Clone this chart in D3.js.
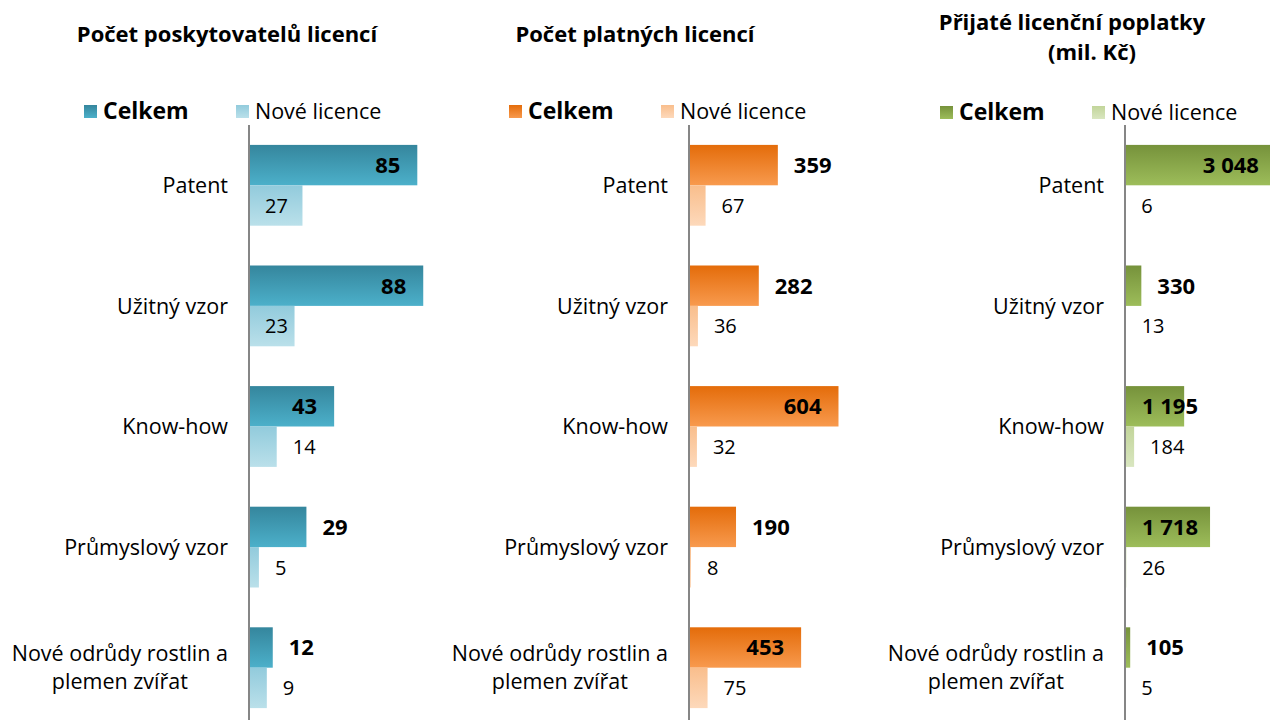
<!DOCTYPE html>
<html>
<head>
<meta charset="utf-8">
<script src="https://cdn.jsdelivr.net/npm/d3@7"></script>
<style>
  html, body { margin: 0; padding: 0; background: #fff; }
  svg { display: block; font-family: "Open Sans", Lato, sans-serif; }
</style>
</head>
<body>
<svg id="chart" width="1270" height="720"></svg>
<script>
// ---- data ----
const categories = ["Patent", "Užitný vzor", "Know-how", "Průmyslový vzor", "Nové odrůdy rostlin a\nplemen zvířat"];
const seriesNames = ["Celkem", "Nové licence"];
const panelTitles = [["Počet poskytovatelů licencí"], ["Počet platných licencí"], ["Přijaté licenční poplatky", "(mil. Kč)"]];
const providersTotal = [85, 88, 43, 29, 12];
const providersNew = [27, 23, 14, 5, 9];
const licencesTotal = [359, 282, 604, 190, 453];
const licencesNew = [67, 36, 32, 8, 75];
const feesTotal = [3048, 330, 1195, 1718, 105];
const feesNew = [6, 13, 184, 26, 5];
const axisMax = [100, 800, 4000];

// ---- label placement (style config) ----
const totalPlacement = [["in","in","in","out","out"], ["out","out","in","out","in"], ["in","out","in","in","out"]];
const newPlacement = [["mid","mid","out","out","out"], ["out","out","out","out","out"], ["out","out","out","out","out"]];

const palettes = [
  { total: ["#35869d", "#4cb0ca"], fresh: ["#92cbdc", "#bae0ea"] },
  { total: ["#e46c0a", "#f89a4e"], fresh: ["#f9be8c", "#fdd9bb"] },
  { total: ["#76923b", "#9dbd5a"], fresh: ["#c2d59a", "#d9e6c0"] }
];

const panels = [
  { axisX: 249, total: providersTotal, fresh: providersNew, titleX: [227], titleY: [42], legendX: 84 },
  { axisX: 689, total: licencesTotal, fresh: licencesNew, titleX: [635], titleY: [42], legendX: 509 },
  { axisX: 1125, total: feesTotal, fresh: feesNew, titleX: [1072, 1092], titleY: [29.5, 60], legendX: 940 }
];

const locale = d3.formatLocale({ decimal: ",", thousands: "\u00a0", grouping: [3], currency: ["", ""] });
const fmt = locale.format(",d");

const svg = d3.select("#chart");
const defs = svg.append("defs");
palettes.forEach((p, i) => {
  ["total", "fresh"].forEach(k => {
    const g = defs.append("linearGradient").attr("id", `g${i}${k}`)
      .attr("x1", 0).attr("y1", 0).attr("x2", 0).attr("y2", 1);
    g.append("stop").attr("offset", "0%").attr("stop-color", p[k][0]);
    g.append("stop").attr("offset", "100%").attr("stop-color", p[k][1]);
  });
});

const plotW = 198;
const y = d3.scaleBand().domain(categories).range([125, 125 + 5 * 120.6]).paddingInner(0.33).paddingOuter(0.165);
const ySub = d3.scaleBand().domain(seriesNames).range([0, y.bandwidth()]);

const catSize = 21.5, pad = 17;

panels.forEach((P, pi) => {
  const x = d3.scaleLinear().domain([0, axisMax[pi]]).range([P.axisX, P.axisX + plotW]);
  const g = svg.append("g");

  // title (one text element, one tspan per line)
  const title = g.append("text").attr("text-anchor", "middle").attr("font-weight", 700)
    .attr("font-size", 22).attr("fill", "#000");
  panelTitles[pi].forEach((t, li) => {
    title.append("tspan").attr("x", P.titleX[li]).attr("y", P.titleY[li]).text(t);
  });

  // legend
  const lg = g.append("g").attr("transform", `translate(${P.legendX},${pi === 2 ? 106 : 105})`);
  lg.append("rect").attr("x", 0).attr("y", 0).attr("width", 13).attr("height", 13).attr("fill", `url(#g${pi}total)`);
  lg.append("text").attr("x", 19).attr("y", 13.5).attr("font-size", 23).attr("font-weight", 700).text(seriesNames[0]);
  lg.append("rect").attr("x", 152).attr("y", 0).attr("width", 13).attr("height", 13).attr("fill", `url(#g${pi}fresh)`);
  lg.append("text").attr("x", 171).attr("y", 13.5).attr("font-size", 21.5).attr("font-weight", 400).text(seriesNames[1]);

  // bars
  const series = [
    { key: "total", name: seriesNames[0], values: P.total, place: totalPlacement[pi], weight: 700, size: 22 },
    { key: "fresh", name: seriesNames[1], values: P.fresh, place: newPlacement[pi], weight: 400, size: 20 }
  ];
  series.forEach(s => {
    g.selectAll(null).data(categories).join("rect")
      .attr("x", x(0))
      .attr("y", c => y(c) + ySub(s.name))
      .attr("width", (c, i) => x(s.values[i]) - x(0))
      .attr("height", ySub.bandwidth())
      .attr("fill", `url(#g${pi}${s.key})`);
  });

  // axis line
  g.append("line").attr("x1", P.axisX).attr("x2", P.axisX).attr("y1", y.range()[0]).attr("y2", 730)
    .attr("stroke", "#868686").attr("stroke-width", 2);

  // value labels
  series.forEach(s => {
    categories.forEach((c, i) => {
      const v = s.values[i];
      const end = x(v);
      const cy = y(c) + ySub(s.name) + ySub.bandwidth() / 2;
      const t = g.append("text").attr("y", cy).attr("dy", "0.36em")
        .attr("font-size", s.size).attr("font-weight", s.weight).attr("fill", "#000").text(fmt(v));
      const w = t.node().getComputedTextLength();
      const pl = s.place[i];
      if (pl === "in") {
        t.attr("text-anchor", "end").attr("x", Math.max(end - pad, P.axisX + pad + w));
      } else if (pl === "mid") {
        t.attr("text-anchor", "middle").attr("x", Math.max((P.axisX + end) / 2, P.axisX + 16 + w / 2));
      } else {
        t.attr("text-anchor", "start").attr("x", end + pad - 1);
      }
    });
  });

  // category labels
  categories.forEach(c => {
    const lines = c.split("\n");
    const cy = y(c) + y.bandwidth() / 2;
    const tg = g.append("g");
    const texts = lines.map((ln, li) => tg.append("text")
      .attr("y", cy + (li - (lines.length - 1) / 2) * 28).attr("dy", "0.36em")
      .attr("font-size", catSize).attr("fill", "#000").text(ln));
    const maxW = d3.max(texts, t => t.node().getComputedTextLength());
    const right = P.axisX - 21;
    texts.forEach(t => t.attr("text-anchor", "middle").attr("x", right - maxW / 2));
  });
});
</script>
</body>
</html>
